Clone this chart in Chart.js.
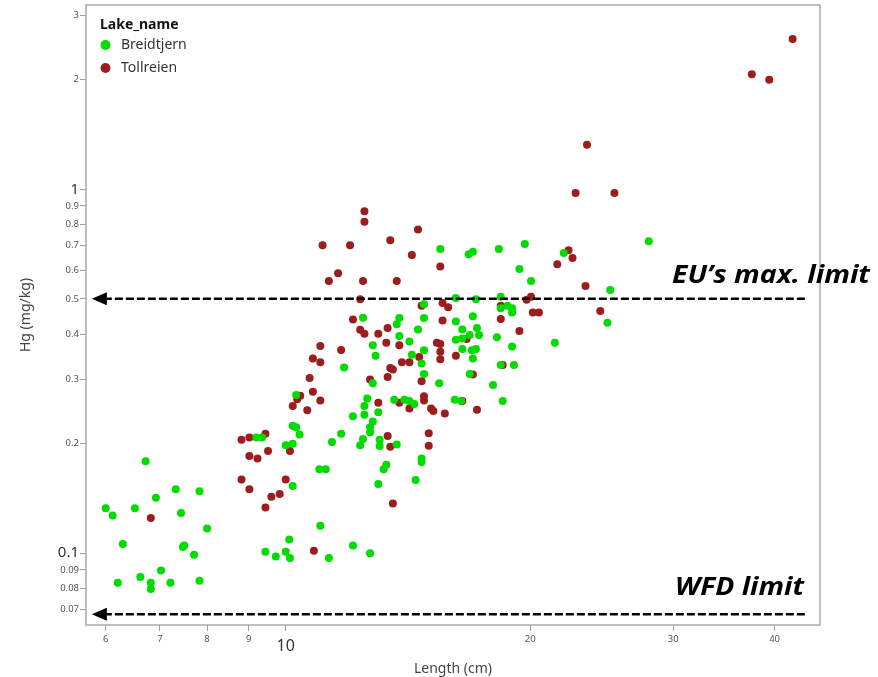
<!DOCTYPE html>
<html>
<head>
<meta charset="utf-8">
<script src="https://cdn.jsdelivr.net/npm/chart.js@4.4.1/dist/chart.umd.min.js"></script>
<style>
  html, body { margin: 0; padding: 0; background: #fff; }
</style>
</head>
<body>
<canvas id="hgChart" width="878" height="677"></canvas>
<script>
// Hg concentration vs fish length, two lakes, log-log axes

const lakeNames = ['Breidtjern', 'Tollreien'];
const lakeColors = ['#00dc00', '#9b1d1d'];

// Breidtjern: length (cm) and Hg (mg/kg)
const breidtjernLength = [
  10.2, 10.3, 10.4, 9.35, 9.2, 10.0, 10.2, 11.4, 11.7, 12.35,
  12.45, 12.7, 12.7, 12.8, 13.05, 13.05, 6.72, 11.0, 11.2, 13.0,
  7.32, 7.83, 6.92, 10.2, 6.0, 6.12, 6.52, 7.43, 8.0, 11.03,
  6.3, 7.5, 7.47, 7.71, 10.1, 9.44, 9.72, 10.0, 10.12, 11.3,
  12.1, 12.7, 7.02, 6.62, 6.21, 6.82, 6.82, 7.21, 7.83,
  12.45, 12.8, 12.9, 11.8, 12.8, 12.6, 12.5, 13.0, 12.5, 12.1, 10.3,
  15.5, 16.8, 17.0, 18.3, 19.7, 22.0, 28.0, 19.4, 20.05, 25.1,
  16.2, 17.15, 18.4, 14.8, 18.75, 19.0, 19.0, 18.4, 24.9, 13.8,
  14.8, 13.7, 16.2, 17.0, 14.55, 16.5, 17.2, 16.85, 17.3, 13.8,
  14.2, 16.2, 16.5, 18.2, 21.45, 14.8, 14.3, 16.5, 16.95, 17.15,
  19.0, 14.7, 17.0, 14.8, 16.85, 18.4, 19.1, 15.45, 18.0, 13.6,
  14.0, 14.2, 14.4, 16.15, 16.45, 18.5, 13.7,
  14.7, 14.7, 13.3, 13.2, 14.45
];
const breidtjernHg = [
  0.224, 0.222, 0.212, 0.208, 0.208, 0.198, 0.2, 0.202, 0.213, 0.198,
  0.206, 0.222, 0.215, 0.23, 0.205, 0.197, 0.179, 0.17, 0.17, 0.155,
  0.15, 0.148, 0.142, 0.153, 0.133, 0.127, 0.133, 0.129, 0.117, 0.119,
  0.106, 0.105, 0.104, 0.099, 0.109, 0.101, 0.098, 0.101, 0.097, 0.097,
  0.105, 0.1, 0.0897, 0.086, 0.083, 0.083, 0.0797, 0.083, 0.084,
  0.444, 0.373, 0.349, 0.324, 0.293, 0.266, 0.254, 0.244, 0.24, 0.238, 0.272,
  0.685, 0.663, 0.674, 0.685, 0.707, 0.668, 0.72, 0.604, 0.56, 0.529,
  0.503, 0.499, 0.507, 0.483, 0.479, 0.471, 0.459, 0.471, 0.43, 0.443,
  0.443, 0.426, 0.433, 0.448, 0.412, 0.412, 0.416, 0.398, 0.398, 0.395,
  0.382, 0.386, 0.389, 0.392, 0.379, 0.361, 0.351, 0.364, 0.361, 0.364,
  0.37, 0.332, 0.343, 0.311, 0.311, 0.329, 0.329, 0.293, 0.29, 0.264,
  0.264, 0.262, 0.257, 0.264, 0.262, 0.262, 0.199,
  0.182, 0.178, 0.175, 0.17, 0.159
];

// Tollreien: length (cm) and Hg (mg/kg)
const tollreienLength = [
  8.82, 9.02, 9.44, 9.02, 9.23, 9.51, 10.12, 8.82, 9.02, 10.0,
  9.6, 9.83, 9.44, 6.82, 10.83, 12.5, 12.5, 11.1, 12.0, 11.6,
  11.3, 12.45, 12.35, 12.1, 12.35, 12.5, 13.0, 11.03, 11.7, 10.8,
  11.03, 10.7, 10.8, 11.03, 10.33, 10.42, 10.2, 10.63, 12.7, 13.0,
  14.55, 13.45, 14.3, 15.5, 13.7, 22.3, 22.55, 21.6, 23.4, 20.05,
  19.8, 14.7, 15.6, 15.85, 18.4, 20.15, 20.5, 24.4, 15.6, 18.4,
  13.35, 19.4, 13.3, 13.8, 15.35, 15.5, 15.5, 14.6, 16.2, 16.7,
  13.9, 14.2, 13.45, 13.55, 15.5, 18.5, 13.35, 14.7, 17.0, 13.8,
  14.8, 14.8, 14.2, 15.1, 15.2, 15.7, 16.5, 17.2, 15.0, 15.0,
  13.35, 13.45, 13.55, 42.1, 37.5, 39.4, 23.5, 22.75, 25.4
];
const tollreienHg = [
  0.205, 0.208, 0.213, 0.185, 0.182, 0.191, 0.191, 0.1595, 0.15, 0.1595,
  0.143, 0.1455, 0.1335, 0.125, 0.1015, 0.87, 0.814, 0.702, 0.702, 0.588,
  0.56, 0.56, 0.499, 0.439, 0.411, 0.401, 0.401, 0.371, 0.362, 0.343,
  0.335, 0.303, 0.278, 0.263, 0.265, 0.271, 0.254, 0.247, 0.3, 0.259,
  0.776, 0.725, 0.66, 0.614, 0.56, 0.68, 0.648, 0.622, 0.542, 0.507,
  0.497, 0.479, 0.487, 0.474, 0.479, 0.459, 0.459, 0.463, 0.436, 0.44,
  0.416, 0.408, 0.379, 0.373, 0.379, 0.376, 0.358, 0.346, 0.349, 0.388,
  0.335, 0.335, 0.323, 0.32, 0.341, 0.329, 0.305, 0.297, 0.31, 0.259,
  0.27, 0.263, 0.25, 0.25, 0.246, 0.242, 0.262, 0.248, 0.2135, 0.1975,
  0.21, 0.196, 0.137, 2.59, 2.07, 2.0, 1.325, 0.977, 0.977
];

const xTicks = [6, 7, 8, 9, 10, 20, 30, 40];
const yTicks = [0.07, 0.08, 0.09, 0.1, 0.2, 0.3, 0.4, 0.5, 0.6, 0.7, 0.8, 0.9, 1, 2, 3];
const xBigTicks = [10];
const yBigTicks = [0.1, 1];

// reference limits drawn as dashed arrows
const limitValues = [0.5, 0.068];
const limitLabels = ['EU\u2019s max. limit', 'WFD limit'];
const arrowSpan = [5.77, 43.6];

const zip = (xs, ys) => xs.map((x, i) => ({ x, y: ys[i] }));
const lengths = [breidtjernLength, tollreienLength];
const hgValues = [breidtjernHg, tollreienHg];

Chart.defaults.font.family = '"Noto Sans", sans-serif';

// plot frame round the chart area
const framePlugin = {
  id: 'frame',
  beforeDatasetsDraw(chart) {
    const { ctx, chartArea: a } = chart;
    ctx.save();
    ctx.strokeStyle = '#ababab';
    ctx.lineWidth = 1.5;
    ctx.strokeRect(a.left, a.top, a.right - a.left, a.bottom - a.top);
    ctx.restore();
  }
};

// legend in the top-left corner of the plot
const legendPlugin = {
  id: 'lakeLegend',
  afterDraw(chart) {
    const { ctx, chartArea: a } = chart;
    ctx.save();
    ctx.fillStyle = '#111';
    ctx.font = 'bold 14px "Noto Sans", sans-serif';
    ctx.textBaseline = 'alphabetic';
    ctx.fillText('Lake_name', a.left + 14, a.top + 24);
    chart.data.datasets.forEach((ds, i) => {
      const cy = a.top + 40 + i * 23;
      ctx.fillStyle = ds.backgroundColor;
      ctx.beginPath();
      ctx.arc(a.left + 19.5, cy, 5, 0, Math.PI * 2);
      ctx.fill();
      ctx.fillStyle = '#333';
      ctx.font = '14px "Noto Sans", sans-serif';
      ctx.textBaseline = 'middle';
      ctx.fillText(ds.label, a.left + 35, cy);
    });
    ctx.restore();
  }
};

// dashed arrows with bold labels
const limitsPlugin = {
  id: 'limits',
  afterDraw(chart) {
    const { ctx, scales: { x, y } } = chart;
    const x0 = x.getPixelForValue(arrowSpan[0]);
    const x1 = x.getPixelForValue(arrowSpan[1]);
    const labelRight = [870, 804];
    const labelDy = [-16, -19];
    const labelWidth = [198, 129];
    limitValues.forEach((v, i) => {
      const py = y.getPixelForValue(v);
      ctx.save();
      ctx.strokeStyle = '#000';
      ctx.lineWidth = 2.5;
      ctx.setLineDash([8, 3]);
      ctx.beginPath();
      ctx.moveTo(x0 + 12, py);
      ctx.lineTo(x1, py);
      ctx.stroke();
      ctx.setLineDash([]);
      ctx.fillStyle = '#000';
      ctx.beginPath();
      ctx.moveTo(x0, py);
      ctx.lineTo(x0 + 15, py - 6.5);
      ctx.lineTo(x0 + 15, py + 6.5);
      ctx.closePath();
      ctx.fill();
      ctx.font = 'italic bold 25px "Open Sans", sans-serif';
      ctx.textAlign = 'right';
      ctx.textBaseline = 'alphabetic';
      const sx = labelWidth[i] / ctx.measureText(limitLabels[i]).width;
      ctx.translate(labelRight[i], py + labelDy[i]);
      ctx.scale(sx, 1);
      ctx.fillText(limitLabels[i], 0, 0);
      ctx.restore();
    });
  }
};

const xTickFont = c => xBigTicks.includes(c.tick && c.tick.value)
  ? { size: 16, lineHeight: 1.64 } : { size: 9.5, lineHeight: 1.2 };
const yTickFont = c => yBigTicks.includes(c.tick && c.tick.value)
  ? { size: 15 } : { size: 9.5 };
const tickColor = big => c => big.includes(c.tick && c.tick.value) ? '#333' : '#555';

new Chart(document.getElementById('hgChart'), {
  type: 'scatter',
  data: {
    datasets: lakeNames.map((name, i) => ({
      label: name,
      data: zip(lengths[i], hgValues[i]),
      backgroundColor: lakeColors[i],
      borderWidth: 0,
      pointRadius: 4,
      pointHoverRadius: 4
    }))
  },
  options: {
    responsive: false,
    animation: false,
    layout: { padding: { top: 5, right: 58, left: 0, bottom: 0 } },
    plugins: {
      legend: { display: false },
      tooltip: { enabled: false }
    },
    scales: {
      x: {
        type: 'logarithmic',
        min: 5.675,
        max: 45.5,
        afterBuildTicks: s => { s.ticks = xTicks.map(value => ({ value })); },
        afterFit: s => { s.height = 52; s.paddingLeft = 0; s.paddingRight = 0; },
        border: { display: false },
        grid: { drawOnChartArea: false, tickLength: 6, color: '#a0a0a0' },
        ticks: {
          autoSkip: false, maxRotation: 0, padding: 2.6,
          color: tickColor(xBigTicks), font: xTickFont,
          callback: v => String(v)
        },
        title: {
          display: true, text: 'Length (cm)', color: '#444',
          font: { size: 14 }, padding: { top: 0, bottom: 0 }
        }
      },
      y: {
        type: 'logarithmic',
        min: 0.0635,
        max: 3.21,
        afterBuildTicks: s => { s.ticks = yTicks.map(value => ({ value })); },
        afterFit: s => { s.width = 86; s.paddingTop = 0; s.paddingBottom = 0; },
        border: { display: false },
        grid: { drawOnChartArea: false, tickLength: 6, color: '#a0a0a0' },
        ticks: {
          autoSkip: false, padding: 1,
          color: tickColor(yBigTicks), font: yTickFont,
          callback: v => String(v)
        },
        title: {
          display: true, text: 'Hg (mg/kg)', color: '#444',
          font: { size: 14 }, padding: { top: 17.5, bottom: 0 }
        }
      }
    }
  },
  plugins: [framePlugin, legendPlugin, limitsPlugin]
});
</script>
</body>
</html>
